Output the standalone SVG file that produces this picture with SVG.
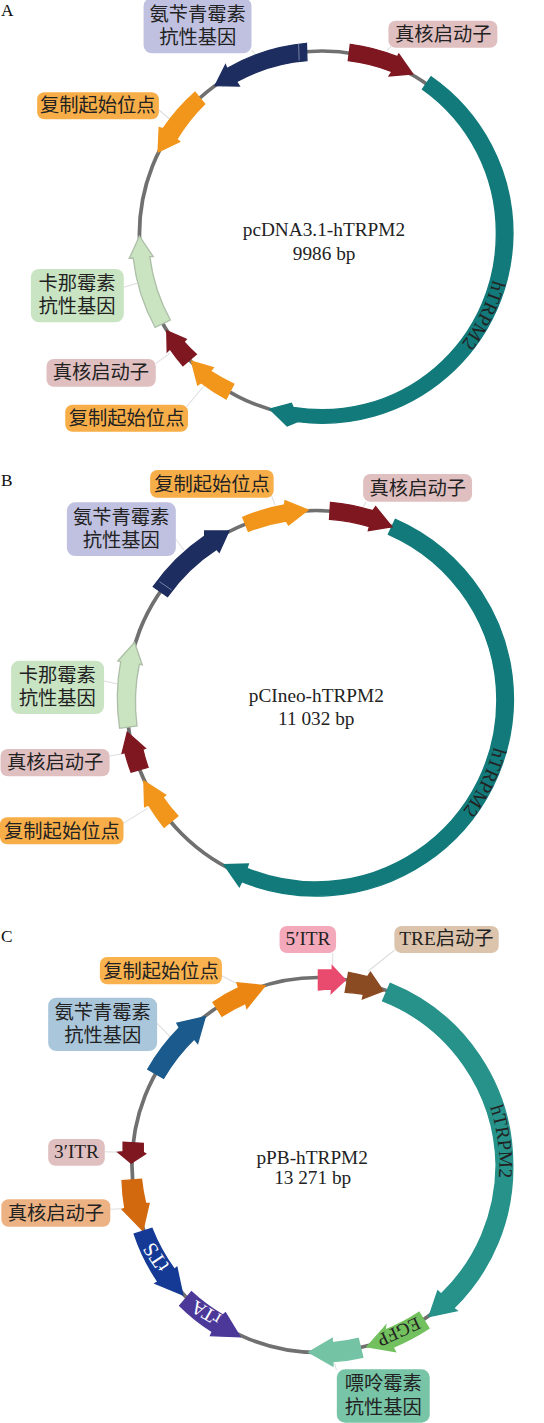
<svg xmlns="http://www.w3.org/2000/svg" width="544" height="1423" viewBox="0 0 544 1423">
<style>
text{font-family:"Liberation Serif","Noto Sans CJK SC",serif;font-size:19.3px;fill:#222;text-anchor:middle}
g path,g rect,g ellipse{transform:scale(1.0405,1)}
.p{font-size:17.3px;text-anchor:start;fill:#111}
.ring{fill:none;stroke:#707070;stroke-width:3.6}
.lead{stroke:#dedede;stroke-width:1;fill:none}
.f{stroke-width:1.3}
.teal{fill:#127a7a;stroke:#127a7a}.teal2{fill:#26928a;stroke:#26928a}.navy{fill:#1e2d5f;stroke:#1e2d5f}.red{fill:#7f1720;stroke:#7f1720}.or{fill:#f2951b;stroke:#f2951b}.gr{fill:#cae4c1;stroke:#aebfa8}
.la{fill:#c0c1e0}.lr{fill:#e0bfc0}.lo{fill:#f8ae48}.lg{fill:#c9e4c2}
.tick{stroke:#9aa3c4;stroke-width:.7;fill:none}
</style>
<defs>
<path id="pa" d="M492.9 280A176.9 178 0 0 1 322 412"/>
<path id="pb" d="M493.8 747A184.2 184.5 0 0 1 315.8 884.5"/>
<path id="pc" d="M489.9 1107A181 182.5 0 0 1 318.2 1347.5"/>
</defs>

<g id="panel-labels">
<text class="p" x="1" y="16">A</text>
<text class="p" x="1" y="486">B</text>
<text class="p" x="1" y="942">C</text>
</g>

<g id="connectors">
<path class="lead" d="M372 50L376 46.7M242 50L245 54M152.7 110L163 119M119 287.3L131.7 283.3M149.7 363.3L163.3 353.3M179.3 406.7L196.7 385"/>
<path class="lead" d="M261 496L264.3 505M349.3 506.7L351.7 501.7M169 539.3L176.7 550M100 681L113 684M105.3 756L120 753.3M118.3 823.3L141.7 808.3"/>
<path class="lead" d="M319.7 953L319.7 966M379.3 950L354 971M213.3 975.7L226.7 983.3M151 1023.3L163.3 1036.7M100.7 1151.7L115 1152.3M106 1209.3L117.3 1208.7M321.7 1363.3L323.3 1370"/>
<ellipse id="backbone-a" class="ring" cx="309.5" cy="234" rx="175.5" ry="183"/>
<ellipse id="backbone-b" class="ring" cx="303.5" cy="700" rx="182" ry="189.5"/>
<ellipse id="backbone-c" class="ring" cx="305.8" cy="1165" rx="179" ry="187.5"/>
</g>

<g id="a-htrpm2">
<path class="f teal" d="M414.3 76.7A183.5 191 0 0 1 493 234A183.5 191 0 0 1 286 421.7L276 426L259.3 409L280 403.3L281.7 407.3A167.5 175 0 0 0 477 234A167.5 175 0 0 0 406 89.3Z"/>
<text style="text-anchor:start"><textPath href="#pa">hTRPM2</textPath></text>
</g>
<g id="a-amp">
<path class="f navy" d="M294.5 43.3A183.5 191 0 0 0 218 68.5L216.7 65L206.7 85.7L230 86L227.3 81.7A167.5 175 0 0 1 295 60.7Z"/>
<path class="tick" d="M287 43.5L287.5 60.5"/>
<rect class="la" x="138" y="-2" width="103.7" height="55.3" rx="8"/>
<text x="197.7" y="21">氨苄青霉素</text><text x="197.7" y="44">抗性基因</text>
</g>
<g id="a-promoter1">
<path class="f red" d="M336.7 44.3A183.5 191 0 0 1 382 56.7L383.3 54L396.7 74L374 76L376.7 71.7A167.5 175 0 0 0 334.7 60.7Z"/>
<rect class="lr" x="373.3" y="20.7" width="104.7" height="27" rx="7"/>
<text x="443.3" y="40.5">真核启动子</text>
</g>
<g id="a-ori1">
<path class="f or" d="M187.4 92.3A183.5 191 0 0 0 156.7 128.7L153 127.7L152 152L172.7 141.7L170 139.3A167.5 175 0 0 1 196.7 104Z"/>
<rect class="lo" x="35.7" y="92.3" width="117" height="27" rx="7"/>
<text x="97.8" y="112">复制起始位点</text>
</g>
<g id="a-kan">
<path class="f gr" d="M149 327.3A183.5 191 0 0 1 128 258L124.3 258.3L134 236L147.3 256.7L144 256.7A167.5 175 0 0 0 163.7 320Z"/>
<rect class="lg" x="29.7" y="269" width="89.3" height="53.3" rx="8"/>
<text x="77" y="289.5">卡那霉素</text><text x="77" y="313">抗性基因</text>
</g>
<g id="a-promoter2">
<path class="f red" d="M175.7 365.7A183.5 191 0 0 1 163.3 349L160.7 351.7L160.3 330.7L179 339.3L176.7 341.7A167.5 175 0 0 0 188.7 354.3Z"/>
<rect class="lr" x="44.7" y="359" width="105" height="27.7" rx="7"/>
<text x="100.9" y="379">真核启动子</text>
</g>
<g id="a-ori2">
<path class="f or" d="M217.3 399A183.5 191 0 0 1 193.3 382.7L190 385L184 361.3L205 367.7L202.3 371A167.5 175 0 0 0 224.7 384Z"/>
<rect class="lo" x="62.7" y="404.7" width="118" height="27" rx="7"/>
<text x="126.6" y="424.5">复制起始位点</text>
</g>
<g id="a-center">
<text x="323.9" y="236">pcDNA3.1-hTRPM2</text>
<text x="324.1" y="259.5">9986 bp</text>
</g>

<g id="b-htrpm2">
<path class="f teal" d="M380 519.3A190 197.5 0 0 1 493.5 700A190 197.5 0 0 1 232.3 881.7L230 886.7L215.3 864.7L238.7 864L237.3 868.3A174 181.5 0 0 0 477.5 700A174 181.5 0 0 0 373.3 534.3Z"/>
<text style="text-anchor:start"><textPath href="#pb">hTRPM2</textPath></text>
</g>
<g id="b-promoter1">
<path class="f red" d="M317.7 502.3A190 197.5 0 0 1 358.3 510.7L361 506.7L376.7 526.7L354 530.7L355 526.7A174 181.5 0 0 0 316.7 519.3Z"/>
<rect class="lr" x="349" y="474" width="104.7" height="27.7" rx="7"/>
<text x="417.8" y="494.5">真核启动子</text>
</g>
<g id="b-ori1">
<path class="f or" d="M233.3 517.3A190 197.5 0 0 1 273.3 505L274 500.7L296 510L277.3 525L275 521A174 181.5 0 0 0 238.7 531.3Z"/>
<rect class="lo" x="144.3" y="470" width="118.7" height="27.7" rx="7"/>
<text x="212" y="490.5">复制起始位点</text>
</g>
<g id="b-amp">
<path class="f navy" d="M147.3 586.7A190 197.5 0 0 1 196.7 536L196.7 531L220 531L210.7 552.3L208.3 549.3A174 181.5 0 0 0 161 596.7Z"/>
<path class="tick" d="M153.3 581.7L165 590"/>
<rect class="la" x="64.3" y="502.3" width="104.7" height="53.7" rx="8"/>
<text x="121.2" y="523.5">氨苄青霉素</text><text x="121.2" y="546.5">抗性基因</text>
</g>
<g id="b-kan">
<path class="f gr" d="M115 728.3A190 197.5 0 0 1 116 661.7L113.3 661L129.3 642.3L136.7 665L134 664A174 181.5 0 0 0 131.7 726Z"/>
<rect class="lg" x="10.7" y="660.7" width="89.3" height="53.3" rx="8"/>
<text x="57.2" y="681.5">卡那霉素</text><text x="57.2" y="704.5">抗性基因</text>
</g>
<g id="b-promoter2">
<path class="f red" d="M126 772.3A190 197.5 0 0 1 120 752.7L117.3 753.3L122.3 732.3L139.7 748.3L137.3 749.3A174 181.5 0 0 0 142.3 767.3Z"/>
<rect class="lr" x="0.5" y="749" width="104.8" height="27.3" rx="7"/>
<text x="55.1" y="768.5">真核启动子</text>
</g>
<g id="b-ori2">
<path class="f or" d="M157.7 827.3A190 197.5 0 0 1 142.7 805L139 806.7L138.3 781L159.3 795L156.7 797.3A174 181.5 0 0 0 171 816Z"/>
<rect class="lo" x="0" y="817.3" width="118.7" height="27" rx="7"/>
<text x="61.9" y="837.5">复制起始位点</text>
</g>
<g id="b-center">
<text x="316.3" y="701.5">pCIneo-hTRPM2</text>
<text x="316.3" y="724.5">11 032 bp</text>
</g>

<g id="c-htrpm2">
<path class="f teal2" d="M375 983.3A187 195.5 0 0 1 492.8 1165A187 195.5 0 0 1 436 1308.3L439.3 1310.7L412.3 1316.7L420.7 1291L424 1294A171 179.5 0 0 0 476.8 1165A171 179.5 0 0 0 367.7 1001Z"/>
<text style="text-anchor:start"><textPath href="#pc">hTRPM2</textPath></text>
</g>
<g id="c-tre">
<path class="f" fill="#8a4a22" stroke="#8a4a22" d="M335 972.3A187 195.5 0 0 1 353.3 976.7L356 972.3L368.3 991L348.3 999L349.3 994.3A171 179.5 0 0 0 331.7 992.3Z"/>
<rect fill="#dcc3ab" x="379" y="926" width="100.3" height="27" rx="7"/>
<text x="446.4" y="944.5">TRE启动子</text>
</g>
<g id="c-5itr">
<path class="f" fill="#e84b6e" stroke="#e84b6e" d="M306 970A187 195.5 0 0 1 319.3 970L319.3 966L332 980L318.3 993.3L318.7 989A171 179.5 0 0 0 306 990Z"/>
<rect fill="#f4a9bb" x="268.7" y="926" width="54.3" height="27" rx="7"/>
<text x="308" y="944.5">5′ITR</text>
</g>
<g id="c-ori">
<path class="f" fill="#ec8612" stroke="#ec8612" d="M204.7 1002.3A187 195.5 0 0 1 229.3 987.7L227.7 982.7L254.7 985.7L237.3 1008.3L236 1003.3A171 179.5 0 0 0 213.3 1016.3Z"/>
<rect fill="#f9b24e" x="96" y="957" width="117.3" height="27.3" rx="7"/>
<text x="161" y="977.5">复制起始位点</text>
</g>
<g id="c-amp">
<path class="f" fill="#1a5a8c" stroke="#1a5a8c" d="M142 1069.3A187 195.5 0 0 1 172.3 1027.7L170 1023.3L197.3 1016.7L190 1043.3L186.7 1039A171 179.5 0 0 0 157.3 1078.3Z"/>
<rect fill="#aac6db" x="46.3" y="997.7" width="104.7" height="53.3" rx="8"/>
<text x="102.7" y="1019">氨苄青霉素</text><text x="102.7" y="1042">抗性基因</text>
</g>
<g id="c-3itr">
<path class="f red" d="M118.3 1142.3L118.3 1151.7L113.3 1152.3L126 1163.3L140 1153.7L137.7 1152.3L137.7 1143.3Z"/>
<rect class="lr" x="46.3" y="1139" width="54.4" height="26.7" rx="7"/>
<text x="76.5" y="1157.5">3′ITR</text>
</g>
<g id="c-promoter">
<path class="f" fill="#d2690f" stroke="#d2690f" d="M117.3 1180.7A187 195.5 0 0 0 120 1208.3L117.3 1209.3L137.3 1230.7L143.3 1203.3L140 1203.3A171 179.5 0 0 1 136 1179.3Z"/>
<rect fill="#edb283" x="1.3" y="1199.3" width="104.7" height="27.4" rx="7"/>
<text x="55.9" y="1219.5">真核启动子</text>
</g>
<g id="c-tts">
<path class="f" fill="#153a96" stroke="#153a96" d="M129 1234A187 195.5 0 0 0 151.7 1281.7L149 1283.3L175.7 1295L170 1267.3L167.7 1269.3A171 179.5 0 0 1 146 1228.3Z"/>
<text transform="translate(156 1257) rotate(-124)" y="6.5" style="fill:#fff;font-size:20.5px">tTS</text>
</g>
<g id="c-rta">
<path class="f" fill="#4b3899" stroke="#4b3899" d="M172.7 1305.7A187 195.5 0 0 0 204 1331.7L202.3 1335.7L230.7 1336.7L216.7 1312.7L214.3 1315A171 179.5 0 0 1 184 1291.7Z"/>
<text transform="translate(206 1312.7) rotate(-150)" y="6" style="fill:#fff">rTA</text>
</g>
<g id="c-egfp">
<path class="f" fill="#72c05e" stroke="#72c05e" d="M412.3 1328.3A187 195.5 0 0 1 377.7 1347.3L380 1351.7L352.7 1346.7L370.7 1325.7L370 1330A171 179.5 0 0 0 402.7 1312.3Z"/>
<text transform="translate(398.8 1331.7) rotate(155)" y="6" style="font-size:18.5px">EGFP</text>
</g>
<g id="c-puro">
<path class="f" fill="#75c3a5" stroke="#75c3a5" d="M348.7 1357.3A187 195.5 0 0 1 320 1361.7L320 1366L296.7 1352.3L319.3 1338.3L319.3 1342.7A171 179.5 0 0 0 344.3 1338.3Z"/>
<rect fill="#78c4a6" x="323.7" y="1369.3" width="89.3" height="53.4" rx="8"/>
<text x="383.2" y="1390">嘌呤霉素</text><text x="383.2" y="1413.5">抗性基因</text>
</g>
<g id="c-center">
<text x="312.2" y="1163.5">pPB-hTRPM2</text>
<text x="312.7" y="1184">13 271 bp</text>
</g>
</svg>
